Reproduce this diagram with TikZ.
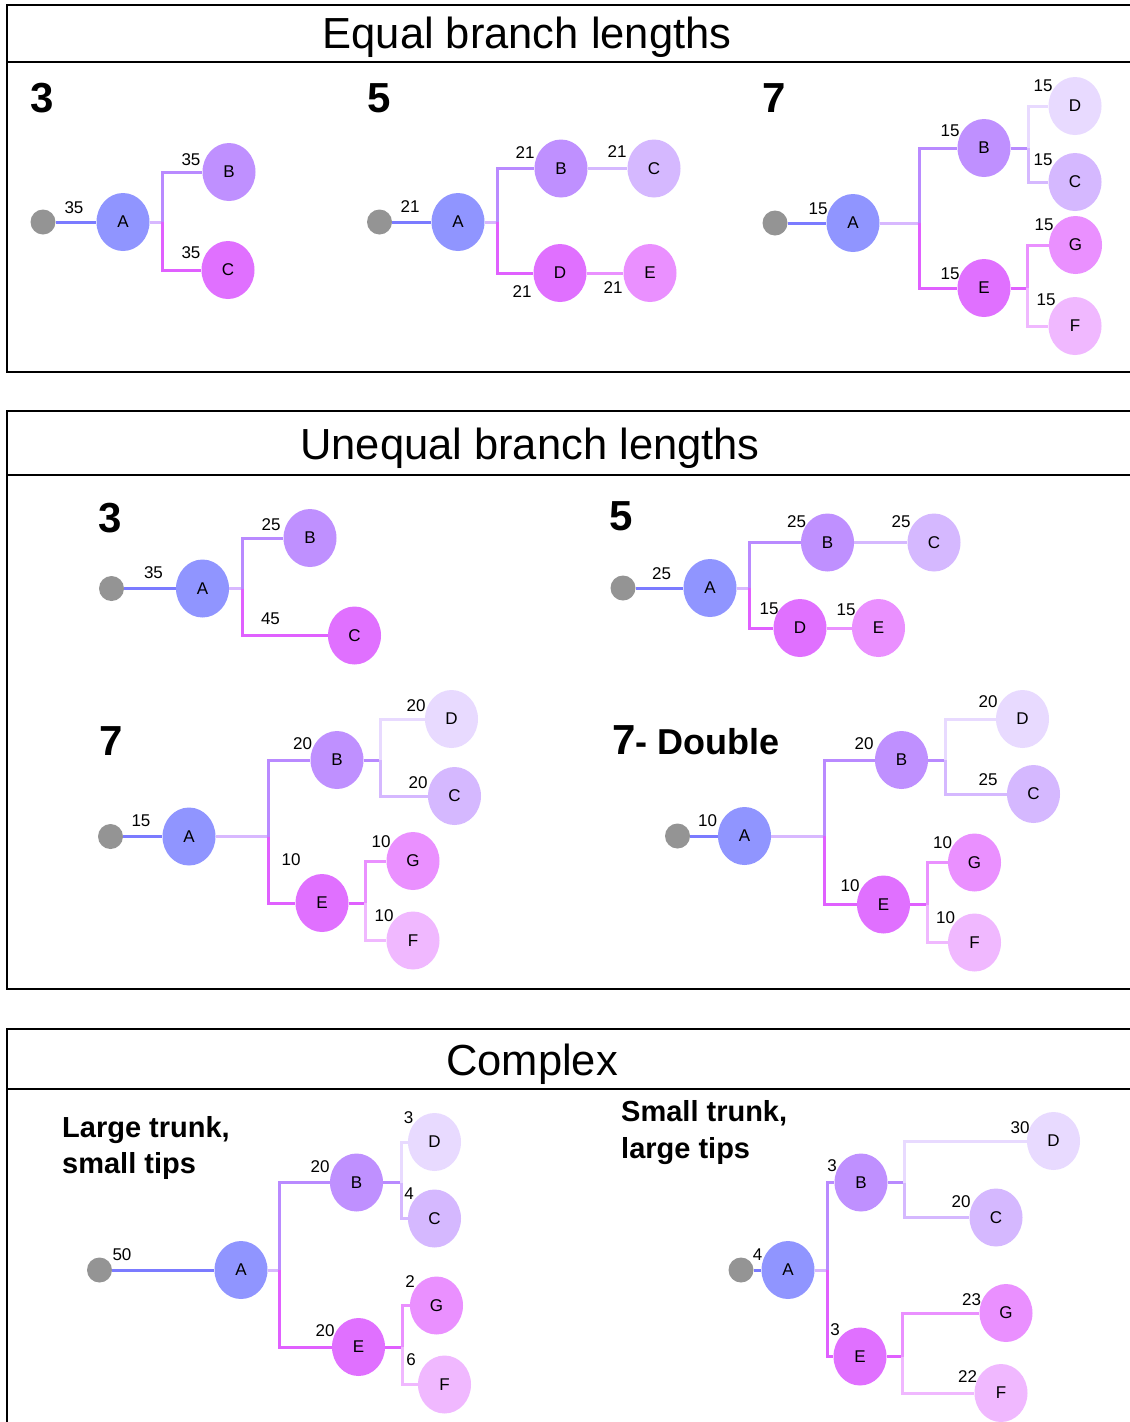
\documentclass[tikz,border=0pt]{standalone}
\usepackage{fontspec}
\setmainfont{Liberation Sans}
\usetikzlibrary{shapes.geometric,backgrounds}

\definecolor{cRoot}{HTML}{949494}
\definecolor{cA}{HTML}{9095FF}
\definecolor{cB}{HTML}{BF90FF}
\definecolor{cMag}{HTML}{E070FF}
\definecolor{cLav}{HTML}{D5B8FF}
\definecolor{cPale}{HTML}{E8DAFF}
\definecolor{cPink}{HTML}{EA90FF}
\definecolor{cLpink}{HTML}{F0B8FF}
\definecolor{eBlue}{HTML}{7B7BFF}
\definecolor{eStubC}{HTML}{D8B8FF}
\definecolor{eMagC}{HTML}{E060FF}
\definecolor{eBC}{HTML}{B98AFF}

\newcommand\lblfont{\fontsize{17}{20}\selectfont}
\newcommand\ttlfont{\fontsize{43.5}{50}\selectfont}
\newcommand\bignum{\fontsize{42}{48}\selectfont\bfseries}
\newcommand\subttl{\fontsize{36}{42}\selectfont\bfseries}
\newcommand\cpxfont{\fontsize{29}{36}\selectfont\bfseries}

\tikzset{
  x=1pt, y=-1pt,
  nd/.style={ellipse, minimum width=53pt, minimum height=58pt, inner sep=0pt, font=\lblfont},
  nA/.style={nd, fill=cA},
  nB/.style={nd, fill=cB},
  nMag/.style={nd, fill=cMag},
  nLav/.style={nd, fill=cLav},
  nPale/.style={nd, fill=cPale},
  nPink/.style={nd, fill=cPink},
  nLpink/.style={nd, fill=cLpink},
  rootdot/.style={circle, fill=cRoot, minimum size=25pt, inner sep=0pt},
  lbl/.style={font=\lblfont, inner sep=0pt},
  br/.style={line width=3pt},
  eRoot/.style={br, draw=eBlue},
  eStub/.style={br, draw=eStubC},
  eB/.style={br, draw=eBC},
  eMag/.style={br, draw=eMagC},
  eLav/.style={br, draw=cLav},
  ePale/.style={br, draw=cPale},
  ePink/.style={br, draw=cPink},
  eLpink/.style={br, draw=cLpink},
  frame/.style={draw=black, line width=2pt},
  ttl/.style={font=\ttlfont, inner sep=0pt, anchor=base},
  num/.style={font=\bignum, inner sep=0pt, anchor=base west},
  cpx/.style={font=\cpxfont, inner sep=0pt, anchor=base west},
}

\begin{document}
\begin{tikzpicture}
\useasboundingbox (0,0) rectangle (1130,1422);
\clip (0,0) rectangle (1130,1422);
\begin{scope}[on background layer]
  \fill[white] (0,0) rectangle (1130,1422);
\end{scope}

% ---------- section frames ----------
\draw[frame] (7,5) rectangle (1145,372);
\draw[frame] (7,62) -- (1145,62);
\draw[frame] (7,411) rectangle (1145,989);
\draw[frame] (7,475) -- (1145,475);
\draw[frame] (7,1029) rectangle (1145,1445);
\draw[frame] (7,1089) -- (1145,1089);

\node[ttl] (t1) at (527,48) {Equal branch lengths};
\node[ttl] (t2) at (530,459) {Unequal branch lengths};
\node[ttl] (t3) at (532,1075) {Complex};

% ---------- equal: 3 ----------
\node[num] (e3n) at (30,112) {3};
\node[rootdot] (e3r) at (43,222) {};
\node[nA] (e3A) at (123,222) {A};
\node[nB] (e3B) at (229,172) {B};
\node[nMag] (e3C) at (228,270) {C};
\coordinate (e3j) at (162,222);
\node[lbl] (e3la) at (74,208) {35};
\node[lbl] (e3lb) at (191,160) {35};
\node[lbl] (e3lc) at (191,253) {35};
\begin{scope}[on background layer]
  \draw[eRoot] (e3r) -- (e3A);
  \draw[eStub] (e3A) -- (e3j);
  \draw[eB] (e3j) |- (e3B);
  \draw[eMag] (e3j) |- (e3C);
\end{scope}

% ---------- equal: 5 ----------
\node[num] (e5n) at (367,112) {5};
\node[rootdot] (e5r) at (379.5,222) {};
\node[nA] (e5A) at (458,222) {A};
\node[nB] (e5B) at (561,168.5) {B};
\node[nLav] (e5C) at (654,168.5) {C};
\node[nMag] (e5D) at (560,273) {D};
\node[nPink] (e5E) at (650,273) {E};
\coordinate (e5j) at (497,222);
\node[lbl] (e5la) at (410,207) {21};
\node[lbl] (e5lb) at (525,153) {21};
\node[lbl] (e5lc) at (617,152) {21};
\node[lbl] (e5ld) at (522,292) {21};
\node[lbl] (e5le) at (613,288) {21};
\begin{scope}[on background layer]
  \draw[eRoot] (e5r) -- (e5A);
  \draw[eStub] (e5A) -- (e5j);
  \draw[eB] (e5j) |- (e5B);
  \draw[eMag] (e5j) |- (e5D);
  \draw[eLav] (e5B) -- (e5C);
  \draw[ePink] (e5D) -- (e5E);
\end{scope}

% ---------- equal: 7 ----------
\node[num] (e7n) at (762,112) {7};
\node[rootdot] (e7r) at (775,223) {};
\node[nA] (e7A) at (853,223) {A};
\node[nB] (e7B) at (984,148) {B};
\node[nMag] (e7E) at (984,288) {E};
\node[nPale] (e7D) at (1075,106) {D};
\node[nLav] (e7C) at (1075,182) {C};
\node[nPink] (e7G) at (1075.5,245) {G};
\node[nLpink] (e7F) at (1075,326) {F};
\coordinate (e7j) at (919,223);
\coordinate (e7j2) at (1028,148);
\coordinate (e7j3) at (1027,288);
\node[lbl] (e7la) at (818,209) {15};
\node[lbl] (e7lb) at (950,131) {15};
\node[lbl] (e7le) at (950,274) {15};
\node[lbl] (e7ld) at (1043,86) {15};
\node[lbl] (e7lc) at (1043,160) {15};
\node[lbl] (e7lg) at (1044,225) {15};
\node[lbl] (e7lf) at (1046,300) {15};
\begin{scope}[on background layer]
  \draw[eRoot] (e7r) -- (e7A);
  \draw[eStub] (e7A) -- (e7j);
  \draw[eB] (e7j) |- (e7B);
  \draw[eMag] (e7j) |- (e7E);
  \draw[eB] (e7B) -- (e7j2);
  \draw[ePale] (e7j2) |- (e7D);
  \draw[eLav] (e7j2) |- (e7C);
  \draw[eMag] (e7E) -- (e7j3);
  \draw[ePink] (e7j3) |- (e7G);
  \draw[eLpink] (e7j3) |- (e7F);
\end{scope}

% ---------- unequal: 3 ----------
\node[num] (u3n) at (98,532) {3};
\node[rootdot] (u3r) at (111.5,588.5) {};
\node[nA] (u3A) at (202.5,588.5) {A};
\node[nB] (u3B) at (310,538) {B};
\node[nMag] (u3C) at (354.5,635.5) {C};
\coordinate (u3j) at (242,588.5);
\node[lbl] (u3la) at (153.5,573) {35};
\node[lbl] (u3lb) at (271,525) {25};
\node[lbl] (u3lc) at (270.5,619) {45};
\begin{scope}[on background layer]
  \draw[eRoot] (u3r) -- (u3A);
  \draw[eStub] (u3A) -- (u3j);
  \draw[eB] (u3j) |- (u3B);
  \draw[eMag] (u3j) |- (u3C);
\end{scope}

% ---------- unequal: 5 ----------
\node[num] (u5n) at (609,530) {5};
\node[rootdot] (u5r) at (623,588) {};
\node[nA] (u5A) at (710,588) {A};
\node[nB] (u5B) at (827.5,542.5) {B};
\node[nLav] (u5C) at (934,542.5) {C};
\node[nMag] (u5D) at (800,628) {D};
\node[nPink] (u5E) at (878.5,628) {E};
\coordinate (u5j) at (749,588);
\node[lbl] (u5la) at (661.5,574) {25};
\node[lbl] (u5lb) at (796.5,522) {25};
\node[lbl] (u5lc) at (901,522) {25};
\node[lbl] (u5ld) at (769,608.5) {15};
\node[lbl] (u5le) at (846,609.5) {15};
\begin{scope}[on background layer]
  \draw[eRoot] (u5r) -- (u5A);
  \draw[eStub] (u5A) -- (u5j);
  \draw[eB] (u5j) |- (u5B);
  \draw[eMag] (u5j) |- (u5D);
  \draw[eLav] (u5B) -- (u5C);
  \draw[ePink] (u5D) -- (u5E);
\end{scope}

% ---------- unequal: 7 ----------
\node[num] (u7n) at (99,755) {7};
\node[rootdot] (u7r) at (110.5,836.5) {};
\node[nA] (u7A) at (189,836.5) {A};
\node[nB] (u7B) at (337,760) {B};
\node[nMag] (u7E) at (322,903) {E};
\node[nPale] (u7D) at (451.5,719) {D};
\node[nLav] (u7C) at (454.5,796) {C};
\node[nPink] (u7G) at (413,861) {G};
\node[nLpink] (u7F) at (413,940.5) {F};
\coordinate (u7j) at (268,836.5);
\coordinate (u7j2) at (380,760);
\coordinate (u7j3) at (365,903);
\node[lbl] (u7la) at (141,821) {15};
\node[lbl] (u7lb) at (302.5,743.5) {20};
\node[lbl] (u7ld) at (416,705.5) {20};
\node[lbl] (u7lc) at (418,783) {20};
\node[lbl] (u7le) at (291,859.5) {10};
\node[lbl] (u7lg) at (381,841.5) {10};
\node[lbl] (u7lf) at (384,916) {10};
\begin{scope}[on background layer]
  \draw[eRoot] (u7r) -- (u7A);
  \draw[eStub] (u7A) -- (u7j);
  \draw[eB] (u7j) |- (u7B);
  \draw[eMag] (u7j) |- (u7E);
  \draw[eB] (u7B) -- (u7j2);
  \draw[ePale] (u7j2) |- (u7D);
  \draw[eLav] (u7j2) |- (u7C);
  \draw[eMag] (u7E) -- (u7j3);
  \draw[ePink] (u7j3) |- (u7G);
  \draw[eLpink] (u7j3) |- (u7F);
\end{scope}

% ---------- unequal: 7, double ----------
\node[num] (udn) at (612,754) {7\subttl- Double};
\node[rootdot] (udr) at (677.5,836) {};
\node[nA] (udA) at (744.5,836) {A};
\node[nB] (udB) at (901.5,760) {B};
\node[nMag] (udE) at (883.5,904.5) {E};
\node[nPale] (udD) at (1022.5,719) {D};
\node[nLav] (udC) at (1033.5,794) {C};
\node[nPink] (udG) at (974.5,862.5) {G};
\node[nLpink] (udF) at (974.5,942.5) {F};
\coordinate (udj) at (824,836);
\coordinate (udj2) at (945,760);
\coordinate (udj3) at (927,904.5);
\node[lbl] (udla) at (707.5,821) {10};
\node[lbl] (udlb) at (864,743.5) {20};
\node[lbl] (udld) at (988,701.5) {20};
\node[lbl] (udlc) at (988,780) {25};
\node[lbl] (udle) at (850,885.5) {10};
\node[lbl] (udlg) at (942.5,842.5) {10};
\node[lbl] (udlf) at (945.5,917.5) {10};
\begin{scope}[on background layer]
  \draw[eRoot] (udr) -- (udA);
  \draw[eStub] (udA) -- (udj);
  \draw[eB] (udj) |- (udB);
  \draw[eMag] (udj) |- (udE);
  \draw[eB] (udB) -- (udj2);
  \draw[ePale] (udj2) |- (udD);
  \draw[eLav] (udj2) |- (udC);
  \draw[eMag] (udE) -- (udj3);
  \draw[ePink] (udj3) |- (udG);
  \draw[eLpink] (udj3) |- (udF);
\end{scope}

% ---------- complex: large trunk ----------
\node[cpx] (clt1) at (62,1137) {Large trunk,};
\node[cpx] (clt2) at (62,1173) {small tips};
\node[rootdot] (clr) at (99.5,1270) {};
\node[nA] (clA) at (241,1270) {A};
\node[nB] (clB) at (356.5,1182.5) {B};
\node[nMag] (clE) at (358.5,1347) {E};
\node[nPale] (clD) at (434.5,1142) {D};
\node[nLav] (clC) at (434.5,1218.5) {C};
\node[nPink] (clG) at (436.5,1305.5) {G};
\node[nLpink] (clF) at (444.5,1384.5) {F};
\coordinate (clj) at (279,1270);
\coordinate (clj2) at (401,1182.5);
\coordinate (clj3) at (402,1347);
\node[lbl] (clla) at (122,1254.5) {50};
\node[lbl] (cllb) at (320,1166.5) {20};
\node[lbl] (clle) at (325,1331) {20};
\node[lbl] (clld) at (408.5,1118) {3};
\node[lbl] (cllc) at (409,1194) {4};
\node[lbl] (cllg) at (410,1281.5) {2};
\node[lbl] (cllf) at (411,1360) {6};
\begin{scope}[on background layer]
  \draw[eRoot] (clr) -- (clA);
  \draw[eStub] (clA) -- (clj);
  \draw[eB] (clj) |- (clB);
  \draw[eMag] (clj) |- (clE);
  \draw[eB] (clB) -- (clj2);
  \draw[ePale] (clj2) |- (clD);
  \draw[eLav] (clj2) |- (clC);
  \draw[eMag] (clE) -- (clj3);
  \draw[ePink] (clj3) |- (clG);
  \draw[eLpink] (clj3) |- (clF);
\end{scope}

% ---------- complex: small trunk ----------
\node[cpx] (cst1) at (621,1121) {Small trunk,};
\node[cpx] (cst2) at (621,1158) {large tips};
\node[rootdot] (csr) at (741,1270) {};
\node[nA] (csA) at (788,1270) {A};
\node[nB] (csB) at (861,1182.5) {B};
\node[nMag] (csE) at (860,1356.5) {E};
\node[nPale] (csD) at (1053.5,1141) {D};
\node[nLav] (csC) at (996,1217.5) {C};
\node[nPink] (csG) at (1006,1313) {G};
\node[nLpink] (csF) at (1001,1393) {F};
\coordinate (csj) at (827,1270);
\coordinate (csj2) at (904,1182.5);
\coordinate (csj3) at (902,1356.5);
\node[lbl] (csla) at (757.5,1254.5) {4};
\node[lbl] (cslb) at (832,1165.5) {3};
\node[lbl] (csle) at (835,1330) {3};
\node[lbl] (csld) at (1020,1128) {30};
\node[lbl] (cslc) at (961,1202) {20};
\node[lbl] (cslg) at (971.5,1299.5) {23};
\node[lbl] (cslf) at (967.5,1376.5) {22};
\begin{scope}[on background layer]
  \draw[eRoot] (csr) -- (csA);
  \draw[eStub] (csA) -- (csj);
  \draw[eB] (csj) |- (csB);
  \draw[eMag] (csj) |- (csE);
  \draw[eB] (csB) -- (csj2);
  \draw[ePale] (csj2) |- (csD);
  \draw[eLav] (csj2) |- (csC);
  \draw[eMag] (csE) -- (csj3);
  \draw[ePink] (csj3) |- (csG);
  \draw[eLpink] (csj3) |- (csF);
\end{scope}
\end{tikzpicture}
\end{document}
